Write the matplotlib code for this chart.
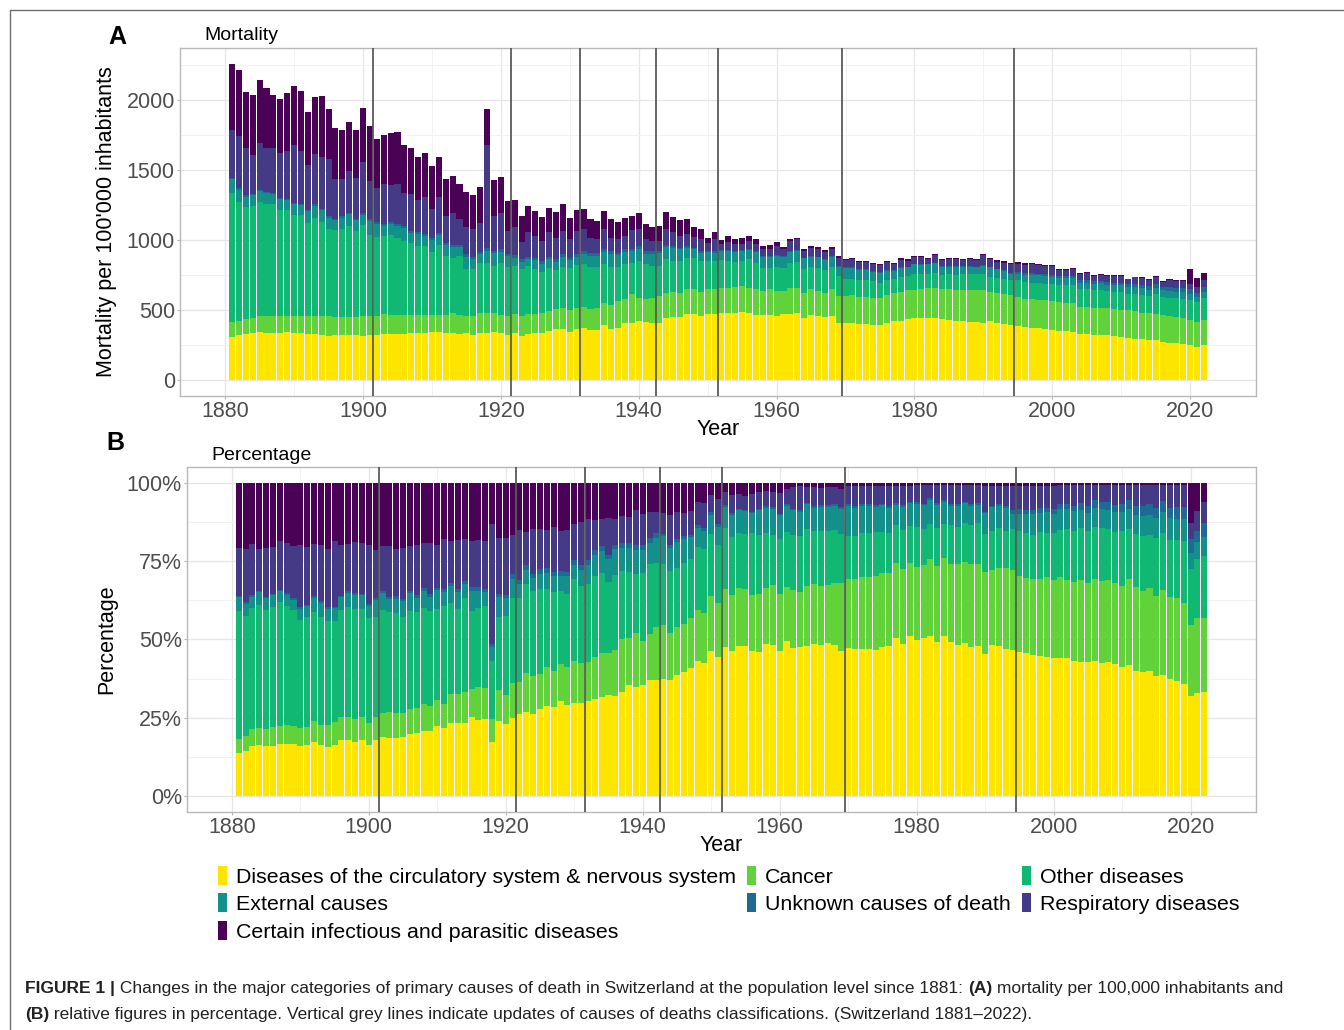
import matplotlib

matplotlib.use("Agg")

import matplotlib.pyplot as plt
import numpy as np
from matplotlib.lines import Line2D
from matplotlib.patches import Patch
from matplotlib.ticker import FuncFormatter, MultipleLocator

plt.rcParams["font.family"] = ["Liberation Sans", "DejaVu Sans"]

YEARS = list(range(1881, 2023))

# deaths per 100'000 inhabitants, one value per year 1881..2022
CIRCULATORY = [
    311, 320, 330, 335, 344, 337, 337, 337, 344, 339, 335, 330, 327, 320, 316, 320, 320, 320, 320, 316,
    323, 323, 327, 330, 332, 332, 334, 334, 339, 341, 344, 334, 339, 327, 339, 320, 339, 334, 344, 334, 320,
    339, 315, 327, 334, 334, 351, 363, 363, 346, 363, 370, 358, 358, 391, 367, 375, 411, 411, 422, 415, 406,
    411, 446, 451, 453, 470, 470, 458, 470, 470, 477, 477, 482, 487, 477, 463, 463, 463, 458, 470, 475, 482,
    446, 463, 458, 453, 458, 411,
    410, 410, 399, 399, 392, 392, 406, 422, 422, 439, 441, 446, 446, 441, 439, 429, 422, 422, 415, 415,
    410, 422, 410, 399, 392, 387, 380, 375, 370, 363,
    360, 351, 351, 346, 327, 330, 322, 320, 320, 316, 308, 304, 296, 292, 287, 284, 273, 268, 263, 256,
    253, 240, 253,
]
CANCER = [
    104, 102, 109, 108, 114, 121, 121, 121, 114, 119, 123, 128, 131, 138, 142, 132, 132, 132, 132, 139,
    135, 135, 143, 138, 136, 136, 134, 134, 129, 127, 124, 134, 138, 141, 119, 138, 138, 143, 138, 134, 140,
    131, 143, 148, 136, 148, 142, 142, 154, 155, 154, 154, 152, 159, 162, 169, 189, 170, 201, 167, 162, 183,
    189, 178, 178, 171, 183, 178, 171, 178, 183, 183, 183, 185, 184, 183, 185, 173, 185, 178, 166, 185, 178,
    178, 185, 178, 171, 190, 191,
    190, 195, 194, 194, 196, 196, 199, 202, 207, 202, 205, 207, 214, 219, 214, 219, 224, 224, 231, 226,
    236, 207, 212, 218, 213, 204, 201, 201, 202, 209,
    205, 206, 197, 202, 197, 194, 195, 197, 195, 194, 194, 197, 197, 190, 190, 190, 192, 190, 188, 184,
    179, 176, 179,
]
OTHER = [
    921, 847, 794, 798, 811, 797, 800, 759, 756, 721, 719, 664, 695, 671, 622, 618, 628, 646, 613, 650,
    579, 562, 557, 564, 543, 523, 507, 488, 490, 445, 495, 417, 396, 417, 337, 332, 361, 361, 332, 365, 345,
    344, 332, 339, 325, 289, 309, 280, 292, 301, 301, 302, 299, 292, 273, 273, 245, 245, 221, 260, 249, 225,
    214, 237, 220, 225, 215, 220, 220, 201, 196, 194, 189, 175, 178, 201, 190, 166, 154, 173, 166, 178, 182,
    171, 161, 166, 161, 161, 138,
    119, 119, 119, 119, 119, 107, 109, 100, 109, 101, 113, 101, 99, 106, 94, 106, 103, 108, 108, 113,
    108, 109, 109, 102, 109, 121, 119, 119, 123, 116,
    122, 119, 130, 130, 128, 128, 125, 128, 122, 122, 130, 117, 125, 128, 122, 138, 128, 130, 132, 142,
    141, 138, 151,
]
EXTERNAL = [
    96, 88, 74, 80, 80, 80, 70, 73, 69, 76, 71, 85, 90, 83, 79, 71, 79, 85, 76, 74,
    95, 93, 74, 81, 90, 93, 74, 86, 72, 88, 74, 76, 76, 62, 86, 74, 59, 86, 90, 83, 80,
    58, 53, 48, 60, 60, 60, 58, 70, 53, 61, 76, 77, 77, 88, 93, 82, 88, 88, 89, 76, 88,
    96, 90, 97, 85, 78, 66, 61, 62, 61, 68, 73, 73, 73, 66, 77, 78, 78, 76, 78, 77, 78,
    73, 71, 73, 71, 71, 70,
    83, 78, 73, 73, 66, 71, 66, 54, 64, 62, 66, 67, 66, 67, 62, 55, 60, 55, 55, 50,
    60, 66, 59, 61, 40, 47, 49, 54, 52, 54,
    50, 53, 51, 51, 42, 44, 45, 45, 45, 46, 44, 45, 45, 46, 47, 47, 48, 49, 49, 49,
    40, 39, 45,
]
UNKNOWN = [
    10, 10, 10, 10, 10, 10, 10, 10, 10, 10, 10, 10, 10, 10, 10, 10, 10, 10, 10, 10,
    14, 14, 14, 14, 14, 14, 14, 14, 14, 14, 14, 14, 14, 14, 16, 16, 16, 16, 16, 16, 18,
    18, 18, 18, 18, 18, 18, 18, 18, 18, 18, 18, 18, 18, 18, 18, 18, 18, 18, 18, 18, 18,
    10, 10, 10, 10, 10, 10, 10, 10, 10, 5, 5, 5, 5, 5, 5, 5, 5, 5, 5, 5, 5,
    5, 5, 5, 5, 5, 5,
    5, 5, 5, 5, 5, 5, 5, 5, 5, 5, 5, 5, 5, 5, 5, 5, 5, 5, 5, 5,
    5, 5, 5, 5, 12, 12, 12, 12, 12, 12,
    13, 13, 13, 13, 18, 18, 18, 18, 18, 18, 20, 20, 20, 24, 24, 24, 24, 25, 26, 27,
    36, 26, 36,
]
RESPIRATORY = [
    344, 377, 339, 273, 332, 308, 315, 320, 339, 412, 379, 318, 363, 373, 406, 287, 269, 302, 291, 365,
    273, 244, 285, 263, 287, 238, 266, 232, 263, 209, 256, 194, 230, 190, 197, 195, 209, 740, 254, 261, 160,
    204, 123, 176, 154, 142, 176, 154, 166, 131, 166, 160, 111, 100, 143, 95, 99, 95, 131, 119, 90, 71,
    71, 114, 100, 85, 85, 80, 85, 55, 85, 41, 60, 48, 46, 59, 53, 47, 47, 66, 47, 71, 79,
    47, 59, 52, 52, 54, 53,
    51, 58, 51, 51, 52, 47, 56, 47, 53, 44, 49, 53, 37, 53, 41, 53, 53, 46, 53, 51,
    73, 54, 49, 54, 62, 61, 62, 64, 59, 57,
    61, 47, 47, 54, 44, 52, 37, 41, 42, 48, 46, 36, 50, 50, 44, 54, 37, 52, 51, 51,
    40, 47, 49,
]
INFECTIOUS = [
    470, 465, 399, 427, 447, 428, 380, 385, 416, 420, 423, 375, 401, 429, 359, 360, 348, 348, 340, 387,
    391, 347, 351, 375, 368, 339, 327, 304, 313, 301, 283, 266, 266, 251, 249, 242, 257, 256, 252, 257, 213,
    194, 185, 185, 178, 174, 173, 183, 190, 154, 154, 142, 136, 130, 135, 131, 119, 126, 104, 118, 105, 103,
    107, 125, 109, 110, 105, 67, 70, 39, 55, 31, 40, 36, 42, 36, 31, 24, 29, 31, 19, 13, 11,
    12, 12, 15, 14, 12, 17,
    8, 8, 8, 8, 8, 8, 8, 8, 8, 8, 6, 6, 6, 6, 6, 6, 6, 6, 6, 6,
    10, 10, 10, 10, 10, 10, 10, 8, 8, 8,
    8, 6, 6, 6, 5, 5, 5, 5, 5, 5, 5, 5, 5, 5, 5, 5, 5, 5, 5, 5,
    101, 65, 48,
]

CATEGORIES = [
    "Diseases of the circulatory system & nervous system",
    "Cancer",
    "Other diseases",
    "External causes",
    "Unknown causes of death",
    "Respiratory diseases",
    "Certain infectious and parasitic diseases",
]
COLORS = ["#FDE500", "#62D23A", "#10B874", "#14908A", "#1D6A93", "#453A85", "#4A0257"]

# years after which the classification of causes of death changed
CLASSIFICATION_BREAKS = [1901.5, 1921.5, 1931.5, 1942.5, 1951.5, 1969.5, 1994.5]

W, H = 1344, 1030


def style_axes(ax):
    ax.set_facecolor("white")
    for sp in ax.spines.values():
        sp.set_color("#B8B8B8")
        sp.set_linewidth(1.0)
    ax.grid(True, which="major", color="#E6E6E6", linewidth=0.9, zorder=0)
    ax.grid(True, which="minor", color="#F2F2F2", linewidth=0.7, zorder=0)
    ax.set_axisbelow(True)
    ax.tick_params(which="major", length=2.5, width=0.8, color="#B8B8B8",
                   labelsize=15.5, labelcolor="#4D4D4D", pad=1.2)
    ax.tick_params(which="minor", length=0)
    ax.xaxis.set_major_locator(MultipleLocator(20))
    ax.xaxis.set_minor_locator(MultipleLocator(10))
    ax.set_xlim(1873.45, 2029.55)


def draw_stack(ax, stack):
    x = np.array(YEARS)
    bottom = np.zeros(len(YEARS))
    for vals, col in zip(stack, COLORS):
        ax.bar(x, vals, bottom=bottom, width=0.88, color=col, linewidth=0, zorder=2)
        bottom = bottom + vals
    for b in CLASSIFICATION_BREAKS:
        ax.axvline(b, color="#5A5A5A", linewidth=1.3, zorder=3)


fig = plt.figure(figsize=(W / 100, H / 100), dpi=100)

stack = np.array([CIRCULATORY, CANCER, OTHER, EXTERNAL, UNKNOWN, RESPIRATORY, INFECTIOUS], dtype=float)
totals = stack.sum(axis=0)
percent = stack / totals * 100

# panel A
axA = fig.add_axes([180 / W, 1 - 396 / H, 1076 / W, 348 / H])
style_axes(axA)
draw_stack(axA, stack)
top = totals.max()
axA.set_ylim(-0.05 * top, 1.05 * top)
axA.yaxis.set_major_locator(MultipleLocator(500))
axA.yaxis.set_minor_locator(MultipleLocator(250))
axA.set_xlabel("Year", fontsize=15.5)
axA.xaxis.set_label_coords(0.5, -0.065)
axA.set_ylabel("Mortality per 100'000 inhabitants", fontsize=15.5)
axA.yaxis.set_label_coords(-0.0586, 0.5)

# panel B
axB = fig.add_axes([187 / W, 1 - 812 / H, 1069 / W, 345 / H])
style_axes(axB)
draw_stack(axB, percent)
axB.set_ylim(-5, 105)
axB.yaxis.set_major_locator(MultipleLocator(25))
axB.yaxis.set_minor_locator(MultipleLocator(12.5))
axB.yaxis.set_major_formatter(FuncFormatter(lambda v, _: f"{v:.0f}%"))
axB.set_xlabel("Year", fontsize=15.5)
axB.xaxis.set_label_coords(0.5, -0.067)
axB.set_ylabel("Percentage", fontsize=15.5)
axB.yaxis.set_label_coords(-0.0655, 0.5)

# panel letters and titles
fig.text(108 / W, 1 - 37 / H, "A", fontsize=18, fontweight="bold", va="center", ha="left")
fig.text(106 / W, 1 - 443 / H, "B", fontsize=18, fontweight="bold", va="center", ha="left")
fig.text(204 / W, 1 - 35 / H, "Mortality", fontsize=14, va="center", ha="left")
fig.text(211 / W, 1 - 455 / H, "Percentage", fontsize=14, va="center", ha="left")

# legend, filled row by row like the original (3 columns)
handles = [Patch(facecolor=c, edgecolor="none") for c in COLORS]
order = [0, 3, 6, 1, 4, 2, 5]
fig.legend(
    [handles[i] for i in order],
    [CATEGORIES[i] for i in order],
    ncol=3,
    loc="upper left",
    bbox_to_anchor=(218 / W, 1 - 866 / H),
    frameon=False,
    fontsize=15.4,
    handlelength=0.4,
    handleheight=1.0,
    handletextpad=0.42,
    columnspacing=0.55,
    labelspacing=0.3,
    borderpad=0,
    borderaxespad=0,
)

# frame around the figure (top and left edges visible)
fig.add_artist(Line2D([10 / W, 10 / W, 1], [0, 1 - 10 / H, 1 - 10 / H],
                      transform=fig.transFigure, color="#6E6E6E", linewidth=1.0))

# caption
CAP_FAMILY = ["Liberation Sans Narrow", "Liberation Sans"]
line1 = [
    ("FIGURE 1 |", "bold"),
    (" Changes in the major categories of primary causes of death in Switzerland at the population level since 1881: ", "normal"),
    ("(A)", "bold"),
    (" mortality per 100,000 inhabitants and", "normal"),
]
line2 = [
    ("(B)", "bold"),
    (" relative figures in percentage. Vertical grey lines indicate updates of causes of deaths classifications. (Switzerland 1881\u20132022).", "normal"),
]

renderer = fig.canvas.get_renderer()


def run_width(runs, size):
    total = 0
    for txt, wt in runs:
        t = fig.text(0, 0, txt, fontsize=size, fontweight=wt, family=CAP_FAMILY)
        total += t.get_window_extent(renderer).width
        t.remove()
    return total


base = 12
cap_size = base * (1255 / run_width(line1, base))


def place(runs, y_px):
    x = 25
    for txt, wt in runs:
        t = fig.text(x / W, 1 - y_px / H, txt, fontsize=cap_size, fontweight=wt,
                     family=CAP_FAMILY, va="center", ha="left", color="#222222")
        x += t.get_window_extent(renderer).width


place(line1, 989)
place(line2, 1014)

fig.savefig("out.png", dpi=100, facecolor="white")
